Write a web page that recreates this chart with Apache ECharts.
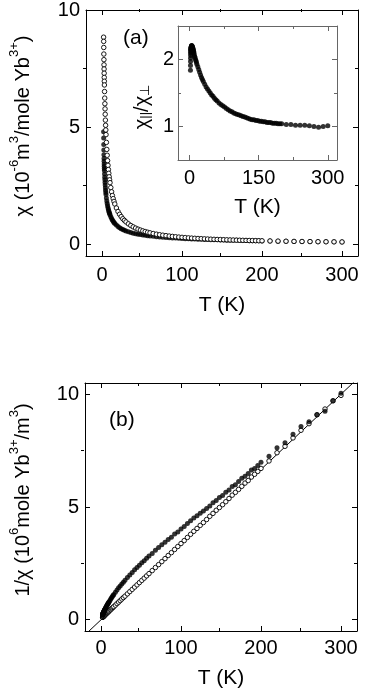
<!DOCTYPE html>
<html>
<head>
<meta charset="utf-8">
<style>
    html, body { margin: 0; padding: 0; background: #fff; }
    #main { width: 365px; height: 690px; }
</style>
<script src="https://cdn.jsdelivr.net/npm/echarts@6/dist/echarts.min.js"></script>
</head>
<body>
<div id="main"></div>
<script>
    // temperatures (K)
    var temps = [2.0, 2.1, 2.2, 2.3, 2.4, 2.5, 2.6, 2.7, 2.8, 2.9, 3.0,
        3.2, 3.4, 3.6, 3.8, 4.0, 4.25, 4.5, 4.75, 5.0,
        5.5, 6, 6.5, 7, 7.5, 8, 8.5, 9, 9.5, 10,
        11, 12, 13, 14, 15, 16, 18, 20, 22, 24, 26, 28, 30,
        33, 36, 39, 42, 45, 48, 51, 54, 57, 60,
        64, 68, 72, 76, 80, 84, 88, 92, 96, 100,
        104, 108, 112, 116, 120, 124, 128, 132, 136, 140,
        144, 148, 152, 156, 160, 164, 168, 172, 176, 180,
        184, 188, 192, 196, 200,
        210, 220, 230, 240, 250, 260, 270, 280, 290, 300];

    // chi, open circles (10^-6 m^3/mole Yb3+)
    var chiOpen = [8.84, 8.66, 8.40, 8.12, 7.88, 7.66, 7.48, 7.30, 7.12, 6.96, 6.80,
        6.52, 6.24, 6.00, 5.78, 5.55, 5.30, 5.08, 4.88, 4.68,
        4.35, 4.05, 3.80, 3.57, 3.37, 3.19, 3.03, 2.88, 2.75, 2.63,
        2.42, 2.24, 2.08, 1.95, 1.83, 1.72, 1.55, 1.40, 1.28, 1.18, 1.09, 1.02, 0.955,
        0.872, 0.802, 0.743, 0.691, 0.647, 0.607, 0.573, 0.542, 0.514, 0.489,
        0.459, 0.432, 0.409, 0.388, 0.369, 0.351, 0.336, 0.321, 0.308, 0.296,
        0.285, 0.274, 0.264, 0.255, 0.247, 0.239, 0.232, 0.225, 0.218, 0.212,
        0.206, 0.201, 0.196, 0.191, 0.186, 0.181, 0.177, 0.173, 0.169, 0.165,
        0.162, 0.158, 0.155, 0.152, 0.149,
        0.142, 0.135, 0.130, 0.124, 0.119, 0.115, 0.110, 0.107, 0.103, 0.1005];

    // chi_par / chi_perp (inset)
    var chiRatio = [1.84, 1.91, 1.97, 2.02, 2.06, 2.09, 2.11, 2.13, 2.14, 2.15, 2.16,
        2.17, 2.18, 2.18, 2.19, 2.19, 2.20, 2.20, 2.21, 2.20,
        2.20, 2.19, 2.18, 2.17, 2.16, 2.15, 2.13, 2.12, 2.10, 2.08,
        2.05, 2.03, 2.00, 1.98, 1.96, 1.93, 1.89, 1.85, 1.81, 1.77, 1.73, 1.70, 1.67,
        1.63, 1.59, 1.56, 1.53, 1.50, 1.47, 1.45, 1.42, 1.40, 1.38,
        1.35, 1.33, 1.31, 1.29, 1.27, 1.25, 1.23, 1.22, 1.20, 1.19,
        1.18, 1.17, 1.16, 1.15, 1.14, 1.13, 1.12, 1.11, 1.10, 1.10,
        1.09, 1.09, 1.08, 1.08, 1.07, 1.07, 1.06, 1.06, 1.06, 1.05,
        1.05, 1.05, 1.04, 1.04, 1.04,
        1.03, 1.03, 1.02, 1.02, 1.02, 1.01, 1.00, 0.99, 1.00, 1.01];

    // straight line in (b)
    var fitT = [-20, 320];
    var fitInv = [-0.67, 10.67];

    var FONT = 'Liberation Sans';

    // filled circles: chi_perp = chi_par / ratio ; panel (b) = 1/chi
    var openA = [], filledA = [], ratioI = [], openB = [], filledB = [];
    for (var i = 0; i < temps.length; i++) {
        var cf = chiOpen[i] / chiRatio[i];
        openA.push([temps[i], chiOpen[i]]);
        filledA.push([temps[i], cf]);
        ratioI.push([temps[i], chiRatio[i]]);
        openB.push([temps[i], 1 / chiOpen[i]]);
        filledB.push([temps[i], 1 / cf]);
    }
    var fitLine = fitT.map(function (t, k) { return [t, fitInv[k]]; });

    var rich = {
        n: { fontSize: 20, fontFamily: FONT, color: '#000', lineHeight: 25, verticalAlign: 'bottom' },
        s: { fontSize: 13, fontFamily: FONT, color: '#000', lineHeight: 13, verticalAlign: 'top' },
        b: { fontSize: 13, fontFamily: FONT, color: '#000', lineHeight: 13, verticalAlign: 'bottom' }
    };

    var grids = [], xAxes = [], yAxes = [];

    // a box: one grid for the major ticks (with labels), a twin grid for the minor ticks
    function box(rect, xr, yr, xMaj, xMin, yMaj, yMin, o) {
        var col = o.color || '#000';
        var lab = { color: '#000', fontSize: 20, fontFamily: FONT };
        var g = grids.length;
        grids.push(rect);
        grids.push(rect);
        var xi = xAxes.length, yi = yAxes.length;
        ['bottom', 'top'].forEach(function (pos, p) {
            xAxes.push({
                gridIndex: g, type: 'value', position: pos, min: xr[0], max: xr[1],
                axisLine: { show: true, onZero: false, lineStyle: { color: col, width: 1 } },
                splitLine: { show: false },
                axisTick: { inside: true, length: 5, customValues: xMaj, lineStyle: { color: col } },
                axisLabel: p === 0 ? Object.assign({ customValues: xMaj, margin: o.xMargin }, lab) : { show: false },
                name: p === 0 ? 'T (K)' : '', nameLocation: 'middle', nameGap: o.xGap,
                nameTextStyle: { fontSize: 21, fontFamily: FONT, color: '#000' }
            });
            xAxes.push({
                gridIndex: g + 1, type: 'value', position: pos, min: xr[0], max: xr[1],
                axisLine: { show: false, onZero: false }, splitLine: { show: false }, axisLabel: { show: false },
                axisTick: { show: true, inside: true, length: 3, customValues: xMin, lineStyle: { color: col } }
            });
        });
        ['left', 'right'].forEach(function (pos, p) {
            yAxes.push({
                gridIndex: g, type: 'value', position: pos, min: yr[0], max: yr[1],
                axisLine: { show: true, onZero: false, lineStyle: { color: col, width: 1 } },
                splitLine: { show: false },
                axisTick: { inside: true, length: 5, customValues: yMaj, lineStyle: { color: col } },
                axisLabel: p === 0 ? Object.assign({ customValues: yMaj, margin: o.yMargin }, lab) : { show: false },
                name: p === 0 ? o.yName : '', nameLocation: 'middle', nameGap: o.yGap, nameRotate: 90,
                nameTextStyle: { rich: rich, padding: o.yPad }
            });
            yAxes.push({
                gridIndex: g + 1, type: 'value', position: pos, min: yr[0], max: yr[1],
                axisLine: { show: false, onZero: false }, splitLine: { show: false }, axisLabel: { show: false },
                axisTick: { show: true, inside: true, length: 3, customValues: yMin, lineStyle: { color: col } }
            });
        });
        return { x: xi, y: yi };
    }

    var aAx = box({ left: 83, right: 7, top: 9, bottom: 434 },
        [-20, 320], [-0.5, 10], [0, 100, 200, 300], [50, 150, 250], [0, 5, 10], [2.5, 7.5], {
        xMargin: 9, xGap: 39, yMargin: 6, yGap: 53, yPad: [0, 0, 0, 14],
        yName: '{n|χ (10}{s|-6}{n|m}{s|3}{n|/mole Yb}{s|3+}{n|)}'
    });
    var iAx = box({ left: 178, right: 28, top: 26, bottom: 530 },
        [-25, 320], [0.5, 2.5], [0, 150, 300], [75, 225], [1, 2], [1.5], {
        color: '#666', xMargin: 8, xGap: 37, yMargin: 4, yGap: 26, yPad: [0, 28, 0, 0],
        yName: '{n|χ}{b|||}{n|/χ}{b|⊥}'
    });
    var bAx = box({ left: 81, right: 8, top: 383, bottom: 59 },
        [-20, 320], [-0.5, 10.5], [0, 100, 200, 300], [50, 150, 250], [0, 5, 10], [2.5, 7.5], {
        xMargin: 7, xGap: 37, yMargin: 6, yGap: 52, yPad: [0, 0, 0, 14],
        yName: '{n|1/χ (10}{s|6}{n|mole Yb}{s|3+}{n|/m}{s|3}{n|)}'
    });

    var myChart = echarts.init(document.getElementById('main'));

    var option = {
        animation: false,
        backgroundColor: '#fff',
        title: [
            { text: '(a)', left: 118, top: 23, textStyle: { fontSize: 21, fontWeight: 'normal', fontFamily: FONT, color: '#000' } },
            { text: '(b)', left: 104, top: 405, textStyle: { fontSize: 21, fontWeight: 'normal', fontFamily: FONT, color: '#000' } }
        ],
        grid: grids,
        xAxis: xAxes,
        yAxis: yAxes,
        series: [
            {
                type: 'scatter', xAxisIndex: aAx.x, yAxisIndex: aAx.y, data: filledA,
                symbolSize: 5, itemStyle: { color: '#000' }, z: 2
            },
            {
                type: 'scatter', xAxisIndex: aAx.x, yAxisIndex: aAx.y, data: openA,
                symbolSize: 4.5, itemStyle: { color: '#fff', borderColor: '#000', borderWidth: 0.9, opacity: 1 }, z: 3
            },
            {
                type: 'scatter', xAxisIndex: iAx.x, yAxisIndex: iAx.y, data: ratioI,
                symbolSize: 5, itemStyle: { color: '#000' }
            },
            {
                type: 'line', xAxisIndex: bAx.x, yAxisIndex: bAx.y, data: fitLine,
                showSymbol: false, clip: true, lineStyle: { color: '#000', width: 1 }, z: 1
            },
            {
                type: 'scatter', xAxisIndex: bAx.x, yAxisIndex: bAx.y, data: openB,
                symbolSize: 4.5, itemStyle: { color: '#fff', borderColor: '#000', borderWidth: 0.9, opacity: 1 }, z: 2
            },
            {
                type: 'scatter', xAxisIndex: bAx.x, yAxisIndex: bAx.y, data: filledB,
                symbolSize: 5, itemStyle: { color: '#000' }, z: 3
            }
        ]
    };

    myChart.setOption(option);
</script>
</body>
</html>
